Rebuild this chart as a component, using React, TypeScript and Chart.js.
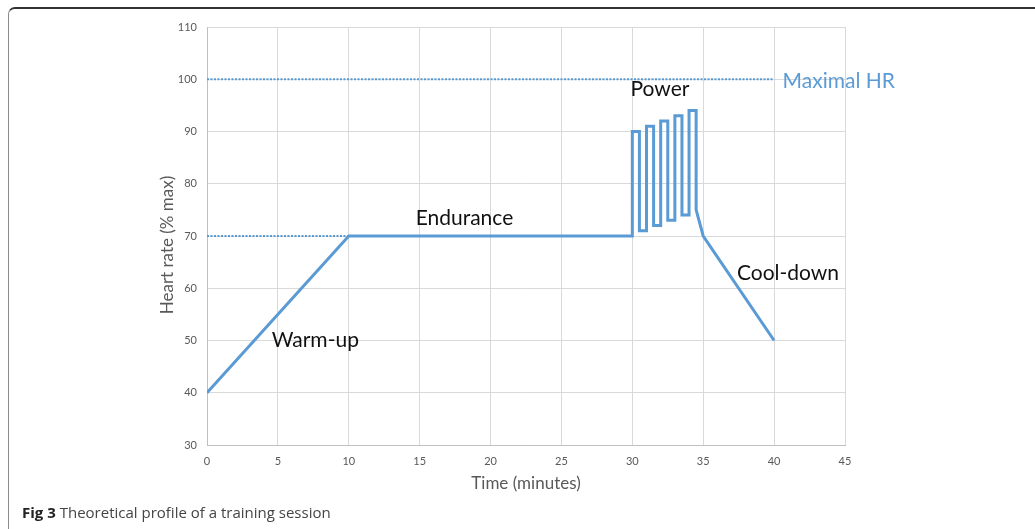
import React, { useEffect, useRef } from "react";
import { Chart, registerables } from "chart.js";

Chart.register(...registerables);

// ---- data ----
const sessionTime = [0, 10, 30, 30, 30.5, 30.5, 31, 31, 31.5, 31.5, 32, 32, 32.5, 32.5, 33, 33, 33.5, 33.5, 34, 34, 34.5, 34.5, 35, 40];
const sessionHR = [40, 70, 70, 90, 90, 71, 71, 91, 91, 72, 72, 92, 92, 73, 73, 93, 93, 74, 74, 94, 94, 75, 70, 50];
const maxHRTime = [0, 40];
const maxHRValue = [100, 100];
const enduranceRefTime = [0, 10];
const enduranceRefValue = [70, 70];

const xTickMin = 0;
const xTickMax = 45;
const xTickStep = 5;
const yTickMin = 30;
const yTickMax = 110;
const yTickStep = 10;

const phaseLabels = ["Warm-up", "Endurance", "Power", "Cool-down"];
const phaseLabelX = [7.64, 18.16, 31.95, 40.98];
const phaseLabelY = [48.8, 72.1, 96.8, 61.6];
const maxLabel = "Maximal HR";
const maxLabelX = 40.6;
const maxLabelY = 98.3;

const xTitle = "Time (minutes)";
const yTitle = "Heart rate (% max)";
const caption = "Theoretical profile of a training session";
const captionPrefix = "Fig 3";

const BLUE = "#5B9BD5";
const FONT = "Lato, 'Open Sans', sans-serif";

const toPoints = (xs: number[], ys: number[]) => xs.map((x, i) => ({ x, y: ys[i] }));

const labelPlugin = {
  id: "phaseLabels",
  afterDraw(chart: any) {
    const { ctx, scales, chartArea } = chart;
    const xs = scales.x;
    const ys = scales.y;
    ctx.save();
    ctx.font = `21px ${FONT}`;
    ctx.fillStyle = "#111111";
    ctx.textAlign = "center";
    ctx.textBaseline = "alphabetic";
    phaseLabels.forEach((t, i) => {
      ctx.fillText(t, xs.getPixelForValue(phaseLabelX[i]), ys.getPixelForValue(phaseLabelY[i]));
    });
    ctx.fillStyle = BLUE;
    ctx.textAlign = "left";
    ctx.fillText(maxLabel, xs.getPixelForValue(maxLabelX), ys.getPixelForValue(maxLabelY));

    // y-axis title
    ctx.translate(chartArea.left - 39.5, (chartArea.top + chartArea.bottom) / 2 + 9);
    ctx.rotate(-Math.PI / 2);
    ctx.font = `17px ${FONT}`;
    ctx.fillStyle = "#595959";
    ctx.textAlign = "center";
    ctx.textBaseline = "middle";
    ctx.fillText(yTitle, 0, 0);
    ctx.restore();
  },
};

export default function App() {
  const canvasRef = useRef<HTMLCanvasElement | null>(null);

  useEffect(() => {
    if (!canvasRef.current) return;
    const chart = new Chart(canvasRef.current, {
      type: "scatter",
      data: {
        datasets: [
          {
            data: toPoints(maxHRTime, maxHRValue),
            showLine: true,
            borderColor: BLUE,
            borderWidth: 2,
            borderDash: [2, 1.5],
            pointRadius: 0,
          },
          {
            data: toPoints(enduranceRefTime, enduranceRefValue),
            showLine: true,
            borderColor: BLUE,
            borderWidth: 2,
            borderDash: [2, 1.5],
            pointRadius: 0,
          },
          {
            data: toPoints(sessionTime, sessionHR),
            showLine: true,
            borderColor: BLUE,
            borderWidth: 3,
            pointRadius: 0,
            tension: 0,
          },
        ],
      },
      options: {
        responsive: false,
        animation: false,
        events: [],
        layout: { padding: { left: 0, top: 27, right: 190, bottom: 24 } },
        plugins: { legend: { display: false }, tooltip: { enabled: false }, title: { display: false } },
        scales: {
          x: {
            type: "linear",
            min: xTickMin,
            max: xTickMax,
            afterFit: (s: any) => { s.height = 60; },
            ticks: { stepSize: xTickStep, color: "#595959", font: { family: FONT, size: 11 }, padding: 10 },
            grid: { color: "#d9d9d9", lineWidth: 1, drawTicks: false },
            border: { color: "#bfbfbf", width: 1 },
            title: {
              display: true,
              text: xTitle,
              color: "#595959",
              font: { family: FONT, size: 17 },
              padding: { top: 0, bottom: 10.8 },
            },
          },
          y: {
            type: "linear",
            min: yTickMin,
            max: yTickMax,
            afterFit: (s: any) => { s.width = 207; },
            ticks: { stepSize: yTickStep, color: "#595959", font: { family: FONT, size: 11 }, padding: 10 },
            grid: { color: "#d9d9d9", lineWidth: 1, drawTicks: false },
            border: { color: "#bfbfbf", width: 1 },
            title: { display: false },
          },
        },
      },
      plugins: [labelPlugin],
    });
    return () => chart.destroy();
  }, []);

  return (
    <div style={{ position: "fixed", left: 0, top: 0, width: 1035, height: 529, overflow: "hidden", background: "#ffffff" }}>
      <div
        style={{
          position: "absolute",
          left: 8,
          top: 7,
          width: 1100,
          height: 600,
          borderTop: "2px solid #333333",
          borderLeft: "1.5px solid #8c8c8c",
          borderTopLeftRadius: 7,
          boxSizing: "border-box",
        }}
      />
      <canvas ref={canvasRef} width={1035} height={529} style={{ position: "absolute", left: 0, top: 0, width: 1035, height: 529 }} />
      <div
        style={{
          position: "absolute",
          left: 22,
          top: 503,
          fontFamily: "'Open Sans', sans-serif",
          fontSize: 15,
          lineHeight: "18px",
          color: "#444444",
          whiteSpace: "nowrap",
        }}
      >
        <b style={{ color: "#222222" }}>{captionPrefix}</b> {caption}
      </div>
    </div>
  );
}
